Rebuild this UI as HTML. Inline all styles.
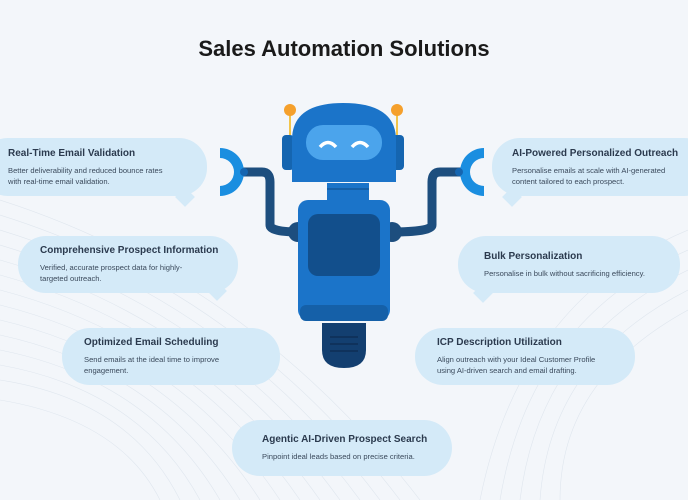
<!DOCTYPE html>
<html><head><style>
body{margin:0;width:688px;height:500px;background:#f3f6fa;font-family:"Liberation Sans",sans-serif;position:relative;overflow:hidden}
h1{position:absolute;top:36px;left:0;width:688px;text-align:center;margin:0;font-size:22px;font-weight:bold;color:#1a1a1a}
.b{position:absolute;background:#d4eaf8;border-radius:28px;box-sizing:border-box;padding:0 16px;display:flex;flex-direction:column;justify-content:center}
.b h3{margin:0 0 6px;font-size:10px;font-weight:bold;color:#2b3a4e;white-space:nowrap}
.b p{margin:0;font-size:7.6px;line-height:11px;color:#3b4a5c;white-space:nowrap}
.t{position:absolute;width:14px;height:14px;background:#d4eaf8;transform:rotate(45deg)}
</style></head><body>
<svg width="688" height="500" style="position:absolute;left:0;top:0">
<g stroke="#dfe6ee" stroke-width="0.6" fill="none">
<path d="M0 200 Q250 280 420 500"/><path d="M0 215 Q240 290 400 500"/><path d="M0 230 Q230 300 380 500"/><path d="M0 245 Q220 310 360 500"/><path d="M0 260 Q210 320 340 500"/><path d="M0 275 Q200 330 320 500"/><path d="M0 290 Q190 340 300 500"/><path d="M0 305 Q180 350 280 500"/><path d="M0 320 Q170 360 260 500"/><path d="M0 335 Q160 370 240 500"/><path d="M0 350 Q150 380 220 500"/><path d="M0 365 Q140 390 200 500"/><path d="M0 380 Q130 400 180 500"/><path d="M0 400 Q120 420 160 500"/>
<path d="M688 230 Q520 300 480 500"/><path d="M688 250 Q530 320 500 500"/><path d="M688 270 Q540 340 520 500"/><path d="M688 290 Q550 360 540 500"/><path d="M688 310 Q560 380 560 500"/>
</g>
<path d="M236 172 L262 172 Q270 172 270 182 L270 225 Q270 232 300 232" stroke="#1d4e7e" stroke-width="9" fill="none"/>
<path d="M466 172 L440 172 Q432 172 432 182 L432 225 Q432 232 390 232" stroke="#1d4e7e" stroke-width="9" fill="none"/>
<path d="M220 148 A24 24 0 0 1 220 196 L220 186 A14 14 0 0 0 220 158 Z" fill="#1a8ee0"/>
<path d="M484 148 A24 24 0 0 0 484 196 L484 186 A14 14 0 0 1 484 158 Z" fill="#1a8ee0"/>
<circle cx="244" cy="172" r="4" fill="#1565b0"/><circle cx="459" cy="172" r="4" fill="#1565b0"/>
<line x1="290" y1="112" x2="290" y2="135" stroke="#f2c54b" stroke-width="2"/>
<line x1="397" y1="112" x2="397" y2="135" stroke="#f2c54b" stroke-width="2"/>
<circle cx="290" cy="110" r="6" fill="#f5a02c"/><circle cx="397" cy="110" r="6" fill="#f5a02c"/>
<rect x="282" y="135" width="12" height="35" rx="4" fill="#1565b0"/>
<rect x="392" y="135" width="12" height="35" rx="4" fill="#1565b0"/>
<path d="M292 182 L292 140 Q292 103 343 103 Q396 103 396 140 L396 182 Z" fill="#1b74c9"/>
<rect x="306" y="125" width="76" height="35" rx="17" fill="#4ba4ec"/>
<path d="M320 147 Q328 138 336 147" stroke="#fff" stroke-width="3.5" fill="none"/>
<path d="M352 147 Q360 138 368 147" stroke="#fff" stroke-width="3.5" fill="none"/>
<rect x="327" y="183" width="42" height="18" fill="#1b74c9"/>
<line x1="327" y1="189" x2="369" y2="189" stroke="#1560a8" stroke-width="2"/>
<circle cx="298" cy="232" r="10" fill="#1d4e7e"/><circle cx="392" cy="232" r="10" fill="#1d4e7e"/>
<rect x="298" y="200" width="92" height="120" rx="10" fill="#1b74c9"/>
<rect x="308" y="214" width="72" height="62" rx="10" fill="#124f8c"/>
<rect x="300" y="305" width="88" height="16" rx="6" fill="#1560a8"/>
<path d="M322 323 L366 323 L366 350 Q366 368 344 368 Q322 368 322 350 Z" fill="#133f70"/>
<line x1="330" y1="337" x2="358" y2="337" stroke="#0e2f56" stroke-width="1.5"/>
<line x1="330" y1="344" x2="358" y2="344" stroke="#0e2f56" stroke-width="1.5"/>
<line x1="330" y1="351" x2="358" y2="351" stroke="#0e2f56" stroke-width="1.5"/>
</svg>
<h1>Sales Automation Solutions</h1>

<div class="t" style="left:178px;top:190px"></div>
<div class="b" style="left:-20px;top:138px;width:227px;height:58px;padding-left:28px"><h3>Real-Time Email Validation</h3><p>Better deliverability and reduced bounce rates<br>with real-time email validation.</p></div>

<div class="t" style="left:210px;top:284px"></div>
<div class="b" style="left:18px;top:236px;width:220px;height:57px;padding-left:22px"><h3>Comprehensive Prospect Information</h3><p>Verified, accurate prospect data for highly-<br>targeted outreach.</p></div>

<div class="b" style="left:62px;top:328px;width:218px;height:57px;padding-left:22px"><h3>Optimized Email Scheduling</h3><p>Send emails at the ideal time to improve<br>engagement.</p></div>

<div class="b" style="left:232px;top:420px;width:220px;height:56px;padding-left:30px"><h3>Agentic AI-Driven Prospect Search</h3><p>Pinpoint ideal leads based on precise criteria.</p></div>

<div class="t" style="left:505px;top:190px"></div>
<div class="b" style="left:492px;top:138px;width:220px;height:58px;padding-left:20px"><h3>AI-Powered Personalized Outreach</h3><p>Personalise emails at scale with AI-generated<br>content tailored to each prospect.</p></div>

<div class="t" style="left:476px;top:286px"></div>
<div class="b" style="left:458px;top:236px;width:222px;height:57px;padding-left:26px"><h3>Bulk Personalization</h3><p>Personalise in bulk without sacrificing efficiency.</p></div>

<div class="b" style="left:415px;top:328px;width:220px;height:57px;padding-left:22px"><h3>ICP Description Utilization</h3><p>Align outreach with your Ideal Customer Profile<br>using AI-driven search and email drafting.</p></div>
</body></html>
